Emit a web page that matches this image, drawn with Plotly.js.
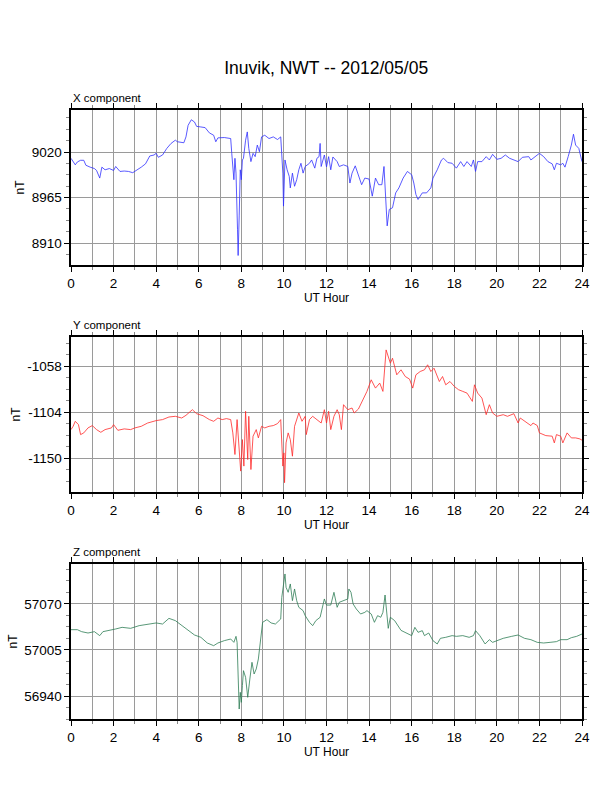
<!DOCTYPE html>
<html><head><meta charset="utf-8">
<script src="https://cdn.plot.ly/plotly-3.0.1.min.js"></script>
<style>html,body{margin:0;padding:0;background:#fff}</style>
</head><body><div id="chart" style="width:612px;height:792px"></div>
<script>
// X component (nT) vs UT hour
const xHours = [0,0.2,0.3,0.45,0.6,0.7,0.9,1.1,1.2,1.35,1.45,1.6,1.8,2.0,2.1,2.3,2.5,2.7,2.9,3.0,3.3,3.5,3.7,3.9,4.0,4.1,4.3,4.5,4.7,4.9,5.0,5.3,5.4,5.5,5.65,5.8,5.9,6.1,6.3,6.5,6.7,6.8,6.9,7.2,7.5,7.55,7.6,7.65,7.7,7.75,7.82,7.85,7.9,7.95,8.0,8.05,8.1,8.15,8.2,8.28,8.35,8.45,8.55,8.65,8.75,8.85,8.95,9.1,9.3,9.5,9.7,9.85,9.9,9.95,9.98,10.05,10.15,10.25,10.3,10.4,10.5,10.6,10.7,10.8,10.9,11.0,11.2,11.3,11.45,11.55,11.65,11.7,11.75,11.9,12.0,12.1,12.2,12.3,12.5,12.6,12.8,13.0,13.1,13.2,13.35,13.5,13.65,13.8,14.0,14.15,14.3,14.45,14.6,14.7,14.78,14.85,14.95,15.1,15.25,15.4,15.6,15.8,16.0,16.1,16.2,16.3,16.5,16.7,16.9,17.0,17.2,17.4,17.5,17.7,17.9,18.1,18.3,18.45,18.6,18.8,18.9,19.0,19.1,19.3,19.5,19.65,19.8,20.0,20.2,20.4,20.6,20.8,21.0,21.2,21.5,21.6,21.8,22.0,22.2,22.4,22.6,22.7,22.8,23.0,23.1,23.2,23.35,23.5,23.6,23.7,23.85,24.0];
const xValues = [9012.4,9004.5,9008,9010,9010,9004,9001.7,9000,8997.7,8988.5,9001.7,8998.5,9000,8997.7,9002.5,8996.5,8997,8996.5,8995,8996.5,9001.7,9005.7,9015.2,9016.4,9018.4,9013.6,9016.4,9024.4,9030.4,9034.3,9032.4,9031.2,9038.3,9052.3,9059,9056.3,9051,9050.3,9049.5,9043.1,9040.3,9032.4,9037.1,9037.5,9036.3,9018.4,9000.5,8986.5,9012.4,8994.5,8926.7,8894.9,8942.7,8998.5,8986.5,9010.4,9012.4,9024.4,9034.3,9044.3,9024.4,9008.4,9018.4,9014.4,9028.4,9020.4,9038.3,9040.3,9036.3,9038.3,9035.1,9038.3,9020.4,8994.5,8954.6,9010.4,8998.5,8990.5,8976.6,8994.5,8978.6,8986.5,8998.5,9006.4,8994.5,9002.5,9006.4,9010.4,9000.5,9012.4,9014.4,9030.4,9002.5,9016.4,9002,9014.4,8998.5,9014,9008.4,9002.5,9004.5,9002.5,8982.5,8994.5,9003.3,8990.5,8980.5,8988.5,8987.3,8966.6,8988.5,8980.5,8980.5,9002.5,8958.6,8930.7,8950.6,8952.6,8970.6,8976.6,8988.5,8996.5,8992.5,8982.5,8968.6,8962.6,8970.6,8970.6,8976.6,8988.5,8998.5,9010.4,9012.4,9007.2,9006.4,9000.5,9008.4,9002.5,9008.4,9002.5,9010.4,8996.5,9008.4,9008.4,9014.4,9010.4,9017.2,9011.2,9012.4,9016.4,9012.4,9010.4,9008.4,9013.6,9014.4,9010.4,9014.4,9018.4,9014.4,9008.4,9005.7,8998.5,9006.4,9004.5,9006.4,9001.7,9014.4,9028.4,9041.5,9028.4,9024.4,9008.4];

// Y component (nT)
const yHours = [0,0.1,0.2,0.35,0.45,0.6,0.8,1.0,1.2,1.4,1.6,1.9,2.0,2.2,2.5,2.8,3.0,3.3,3.6,4.0,4.3,4.6,4.9,5.2,5.4,5.6,5.7,5.9,6.2,6.5,6.7,6.9,7.1,7.3,7.5,7.6,7.7,7.8,7.9,7.97,8.05,8.12,8.2,8.3,8.35,8.45,8.55,8.7,8.8,8.95,9.1,9.3,9.5,9.7,9.85,9.9,9.95,10.0,10.03,10.1,10.2,10.3,10.4,10.5,10.6,10.7,10.85,11.0,11.05,11.2,11.35,11.55,11.75,11.9,12.0,12.1,12.2,12.35,12.5,12.6,12.7,12.8,13.0,13.2,13.3,13.5,13.7,13.9,14.1,14.3,14.5,14.65,14.8,14.9,15.0,15.1,15.3,15.5,15.7,15.9,16.05,16.2,16.4,16.6,16.75,16.9,17.05,17.3,17.45,17.6,17.8,18.0,18.2,18.4,18.6,18.85,18.95,19.1,19.3,19.5,19.65,19.8,20.0,20.3,20.5,20.8,21.0,21.1,21.4,21.6,21.7,21.9,22.0,22.3,22.6,22.7,22.8,23.0,23.1,23.3,23.5,23.7,23.9,24.0];
const yValues = [-1121.6,-1118.3,-1113.3,-1116.6,-1126.6,-1124.9,-1119.9,-1117.6,-1121.6,-1124.3,-1121.6,-1119.9,-1116.6,-1122.3,-1120.9,-1121.6,-1119.9,-1118.3,-1115,-1112.6,-1111.6,-1109,-1108.3,-1110,-1107.3,-1103.3,-1101.7,-1105.7,-1107.7,-1111.6,-1113.3,-1110,-1111.6,-1110.6,-1111.6,-1124.9,-1146.5,-1111.6,-1139.9,-1163.1,-1131.6,-1158.1,-1103.3,-1151.5,-1108.3,-1161.5,-1128.2,-1121.6,-1129.9,-1118.3,-1119.9,-1118.3,-1117.6,-1115.6,-1111.6,-1131.6,-1158.1,-1144.9,-1174.7,-1134.9,-1124.9,-1131.6,-1148.2,-1118.3,-1111.6,-1105,-1113.3,-1108.3,-1126.6,-1111.6,-1108.3,-1111.6,-1115,-1101.7,-1115,-1103.3,-1121.6,-1108.3,-1101.7,-1106.7,-1121.6,-1096.7,-1101.7,-1100,-1105,-1101,-1091.7,-1083.4,-1071.8,-1080.1,-1075.1,-1083.4,-1041.9,-1048.5,-1055.2,-1050.2,-1066.8,-1061.8,-1068.5,-1071.1,-1080.1,-1066.8,-1063.5,-1061.8,-1056.8,-1063.5,-1060.2,-1073.5,-1068.5,-1076.8,-1073.5,-1078.4,-1081.7,-1083.4,-1085.1,-1093.4,-1076.8,-1085.1,-1090.1,-1106.7,-1096.7,-1105,-1108.3,-1106.7,-1108.3,-1105.7,-1115,-1110,-1115,-1117.6,-1115,-1117.6,-1124.9,-1127.6,-1128.2,-1134.9,-1126.6,-1128.2,-1134.9,-1124.9,-1129.9,-1129.9,-1130.9,-1132.2];

// Z component (nT)
const zHours = [0,0.3,0.5,0.8,1.1,1.35,1.5,1.8,2.1,2.4,2.8,3.2,3.6,4.0,4.3,4.6,4.9,5.2,5.5,5.8,6.1,6.4,6.7,6.9,7.2,7.5,7.65,7.75,7.8,7.85,7.9,7.95,8.0,8.05,8.1,8.2,8.3,8.4,8.5,8.6,8.7,8.8,8.9,9.0,9.2,9.4,9.6,9.85,9.9,10.0,10.05,10.1,10.2,10.3,10.4,10.5,10.6,10.7,10.9,11.0,11.2,11.35,11.5,11.7,11.9,12.0,12.2,12.35,12.5,12.6,12.8,13.0,13.05,13.15,13.25,13.4,13.6,13.8,13.9,14.1,14.25,14.4,14.55,14.65,14.75,14.85,14.9,15.0,15.2,15.5,15.8,16.0,16.15,16.3,16.5,16.6,16.8,17.0,17.2,17.35,17.6,17.9,18.1,18.4,18.7,18.9,19.0,19.2,19.45,19.65,19.8,20.0,20.3,20.7,21.0,21.3,21.6,21.9,22.2,22.5,22.8,23.0,23.3,23.5,23.75,24.0];
const zValues = [57033.7,57033.7,57030.9,57029,57030.9,57025.3,57030.9,57032.3,57034.7,57037,57035.6,57039.4,57041.7,57043.2,57041.7,57049.7,57046.5,57039.4,57032.3,57026.2,57022.9,57014.9,57011.1,57014.9,57018.2,57020.5,57015.8,57024.3,57015.8,56964,56921.6,56945.2,56931,56954.6,56975.8,56966.4,56938.1,56964,56987.6,56971.1,56978.2,56992.3,57020.5,57044.1,57047.9,57043.2,57041.7,57048.8,57079.4,57100.6,57112.4,57093.6,57086.5,57098.3,57074.7,57091.2,57074.7,57065.3,57060.6,57053.5,57044.1,57039.4,57046.5,57051.2,57077.1,57068.5,57068.5,57086.5,57065.3,57072.4,57074.7,57077.1,57091.2,57086.5,57070,57062.9,57055.9,57058.2,57060.6,57055.9,57044.1,57053.5,57051.2,57058.2,57082.7,57051.2,57035.6,57051.2,57046.5,57032.7,57027.7,57025.3,57037,57030,57032.3,57025.3,57029,57018.2,57013.5,57021.5,57022.9,57025.3,57024.3,57025.3,57022.9,57025.3,57032.3,57025.3,57013.5,57019.6,57015.8,57018.2,57021.5,57024.3,57026.2,57021.5,57019.6,57015.8,57014.9,57015.8,57016.8,57019.6,57019.6,57022.4,57024.3,57027.6];

// tick labels
const hourTicks = [0,2,4,6,8,10,12,14,16,18,20,22,24];
const xTicks = [8910, 8965, 9020];
const yTicks = [-1150, -1104, -1058];
const zTicks = [56940, 57005, 57070];

const FONT = 'Liberation Sans, Arial, Helvetica, sans-serif';

function xAx(anchor){
  return {
    domain:[71/612, 582/612], range:[0,24], anchor:anchor,
    tickmode:'array', tickvals:hourTicks, ticktext:hourTicks.map(String),
    ticks:'outside', ticklen:5, tickwidth:1, tickcolor:'#000',
    showline:true, linecolor:'#000', linewidth:1.6, mirror:'allticks',
    showgrid:true, gridcolor:'#9a9a9a', gridwidth:1,
    minor:{dtick:1, ticks:'outside', ticklen:3, tickcolor:'#888', showgrid:true, gridcolor:'#9a9a9a', gridwidth:1},
    zeroline:false,
    tickfont:{family:FONT, size:13.5, color:'#000'},
    title:{text:'UT Hour', font:{family:FONT, size:12, color:'#000'}, standoff:2}
  };
}
function yAx(anchor, dom, rng, tv, mdt){
  return {
    domain:dom, range:rng, anchor:anchor,
    tickmode:'array', tickvals:tv, ticktext:tv.map(v => String(v)),
    ticks:'outside', ticklen:5, tickwidth:1, tickcolor:'#000',
    showline:true, linecolor:'#000', linewidth:1.6, mirror:'allticks',
    showgrid:true, gridcolor:'#9a9a9a', gridwidth:1,
    minor:{tick0:tv[0], dtick:mdt, ticks:'outside', ticklen:3, tickcolor:'#888', showgrid:false},
    zeroline:false,
    tickfont:{family:FONT, size:13.5, color:'#000'},
    title:{text:'nT', font:{family:FONT, size:12, color:'#000'}, standoff:4}
  };
}

const traces = [
  {x:xHours, y:xValues, type:'scatter', mode:'lines', line:{color:'#3030ff', width:0.8}, xaxis:'x', yaxis:'y', hoverinfo:'skip'},
  {x:yHours, y:yValues, type:'scatter', mode:'lines', line:{color:'#ff2a2a', width:0.8}, xaxis:'x2', yaxis:'y2', hoverinfo:'skip'},
  {x:zHours, y:zValues, type:'scatter', mode:'lines', line:{color:'#2e7d55', width:0.8}, xaxis:'x3', yaxis:'y3', hoverinfo:'skip'}
];

const layout = {
  width:612, height:792, margin:{l:0,r:0,t:0,b:0},
  paper_bgcolor:'#fff', plot_bgcolor:'#fff', showlegend:false,
  title:{text:'Inuvik, NWT -- 2012/05/05', x:0.533, xanchor:'center', y:1-68/792, yanchor:'middle', font:{family:FONT, size:17.5, color:'#000'}},
  xaxis: xAx('y'),
  yaxis: yAx('x', [1-265/792, 1-110/792], [8883.4, 9070.8], xTicks, 13.75),
  xaxis2: xAx('y2'),
  yaxis2: yAx('x2', [1-492/792, 1-337/792], [-1184, -1029], yTicks, 11.5),
  xaxis3: xAx('y3'),
  yaxis3: yAx('x3', [1-719/792, 1-564/792], [56907.5, 57126.5], zTicks, 16.25),
  annotations:[
    {text:'X component', xref:'paper', yref:'paper', x:71/612, y:1-98/792, xanchor:'left', yanchor:'middle', showarrow:false, font:{family:FONT, size:11.5, color:'#000'}},
    {text:'Y component', xref:'paper', yref:'paper', x:71/612, y:1-325/792, xanchor:'left', yanchor:'middle', showarrow:false, font:{family:FONT, size:11.5, color:'#000'}},
    {text:'Z component', xref:'paper', yref:'paper', x:71/612, y:1-552/792, xanchor:'left', yanchor:'middle', showarrow:false, font:{family:FONT, size:11.5, color:'#000'}}
  ]
};

Plotly.newPlot('chart', traces, layout, {displayModeBar:false, staticPlot:true});
</script>
</body></html>
